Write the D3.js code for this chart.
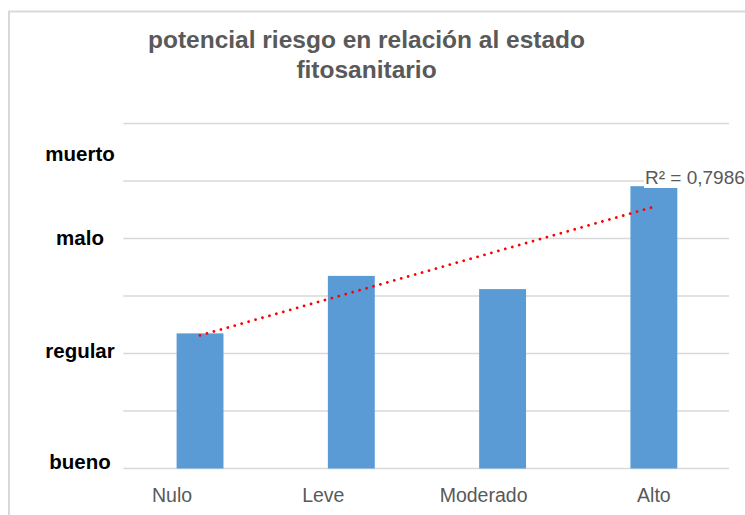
<!DOCTYPE html>
<html>
<head>
<meta charset="utf-8">
<script src="https://cdn.jsdelivr.net/npm/d3@7"></script>
<style>
  html, body { margin: 0; padding: 0; background: #ffffff; }
  svg { display: block; }
  text { font-family: "Liberation Sans", Arial, sans-serif; }
</style>
</head>
<body>
<svg id="chart" width="745" height="515"></svg>
<script>
// ---- data ----
const categories = ["Nulo", "Leve", "Moderado", "Alto"];
const values = [2.35, 3.35, 3.12, 4.91];
const yTicks = [0, 1, 2, 3, 4, 5, 6];
const yLabelNames = ["bueno", "regular", "malo", "muerto"];
const yLabelValues = [0, 1.92, 3.89, 5.35];
const titleLines = ["potencial riesgo en relación al estado", "fitosanitario"];
const r2Label = "R² = 0,7986";

// ---- layout ----
const svg = d3.select("#chart");
const W = 745, H = 515;
const plot = { left: 123.3, right: 729, top: 123.5, bottom: 468.5 };

// chart area border
svg.append("rect")
  .attr("x", 9).attr("y", 11.5)
  .attr("width", 800).attr("height", 600)
  .attr("fill", "none")
  .attr("stroke", "#d9d9d9")
  .attr("stroke-width", 2);

const x = d3.scaleBand()
  .domain(categories)
  .range([124.4, 729.5])
  .paddingInner(0.69)
  .paddingOuter(0.345);

const y = d3.scaleLinear()
  .domain([0, 6])
  .range([plot.bottom, plot.top]);

// gridlines
svg.append("g").selectAll("line")
  .data(yTicks)
  .join("line")
  .attr("x1", plot.left).attr("x2", plot.right)
  .attr("y1", d => y(d)).attr("y2", d => y(d))
  .attr("stroke", "#d9d9d9")
  .attr("stroke-width", 1.3);

// bars
svg.append("g").selectAll("rect")
  .data(values)
  .join("rect")
  .attr("x", (d, i) => x(categories[i]))
  .attr("y", d => y(d))
  .attr("width", x.bandwidth())
  .attr("height", d => y(0) - y(d))
  .attr("fill", "#5b9bd5");

// linear trendline (least squares over category index 1..n)
const n = values.length;
const xs = values.map((d, i) => i + 1);
const mx = d3.mean(xs), my = d3.mean(values);
const sxy = d3.sum(xs, (xv, i) => (xv - mx) * (values[i] - my));
const sxx = d3.sum(xs, xv => (xv - mx) * (xv - mx));
const slope = sxy / sxx, intercept = my - slope * mx;
const trendPts = [1, n].map(k => [x(categories[k - 1]) + x.bandwidth() / 2, y(intercept + slope * k)]);

svg.append("path")
  .attr("d", d3.line()(trendPts))
  .attr("fill", "none")
  .attr("stroke", "#ff0000")
  .attr("stroke-width", 2.8)
  .attr("stroke-linecap", "round")
  .attr("stroke-dasharray", "0.01 7.2");

// R² label
const r2 = svg.append("g");
r2.append("rect")
  .attr("x", 644).attr("y", 168)
  .attr("width", 110).attr("height", 20)
  .attr("fill", "#ffffff");
r2.append("text")
  .attr("x", 645).attr("y", 184.3)
  .attr("fill", "#595959")
  .attr("font-size", 19)
  .text(r2Label);

// y-axis category labels
svg.append("g").selectAll("text")
  .data(yLabelNames)
  .join("text")
  .attr("x", 80)
  .attr("y", (d, i) => y(yLabelValues[i]))
  .attr("text-anchor", "middle")
  .attr("font-size", 20.5)
  .attr("font-weight", "bold")
  .attr("fill", "#000000")
  .text(d => d);

// x-axis labels
const xLabelShift = [-28, -28, -19, 0];
svg.append("g").selectAll("text")
  .data(categories)
  .join("text")
  .attr("x", (d, i) => x(d) + x.bandwidth() / 2 + xLabelShift[i])
  .attr("y", 502.3)
  .attr("text-anchor", "middle")
  .attr("font-size", 19.5)
  .attr("fill", "#595959")
  .text(d => d);

// title
svg.append("g").selectAll("text")
  .data(titleLines)
  .join("text")
  .attr("x", 366.5)
  .attr("y", (d, i) => 48.3 + i * 30)
  .attr("text-anchor", "middle")
  .attr("font-size", 24.5)
  .attr("font-weight", "bold")
  .attr("fill", "#595959")
  .text(d => d);
</script>
</body>
</html>
